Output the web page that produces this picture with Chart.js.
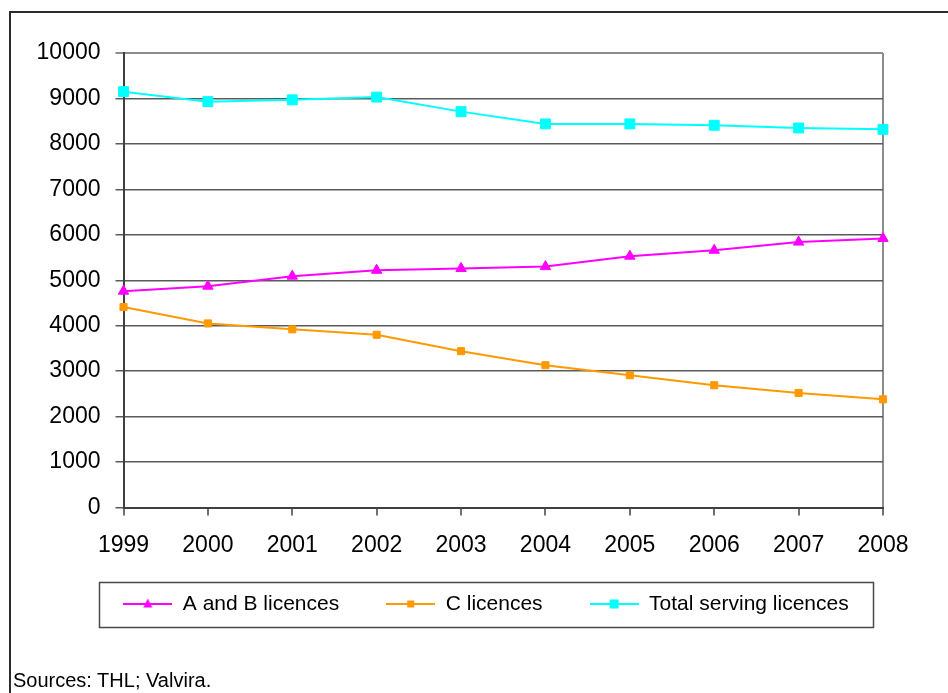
<!DOCTYPE html>
<html>
<head>
<meta charset="utf-8">
<title>Serving licences 1999-2008</title>
<script src="https://cdn.jsdelivr.net/npm/chart.js@4.4.1/dist/chart.umd.min.js"></script>
<style>
  html, body { margin: 0; padding: 0; background: #fff; overflow: hidden; }
  #frame { position: absolute; left: 9px; top: 11px; width: 1000px; height: 800px; border: 2px solid #2b2b2b; box-sizing: border-box; }
  #wrap { position: absolute; left: 0; top: 0; width: 948px; height: 693px; }
  #source { position: absolute; left: 13px; top: 669px; line-height: 20px; font: 20px "Liberation Sans", Arial, sans-serif; color: #000; }
</style>
</head>
<body>
<div id="frame"></div>
<div id="wrap"><canvas id="licenceChart"></canvas></div>
<div id="source">Sources: THL; Valvira.</div>
<script>
// Vuodet ja lupamäärät (luettu kuvasta)
const years = ['1999', '2000', '2001', '2002', '2003', '2004', '2005', '2006', '2007', '2008'];
const abLicences = [4760, 4870, 5090, 5220, 5260, 5300, 5530, 5660, 5840, 5920];
const cLicences = [4410, 4050, 3920, 3800, 3440, 3130, 2910, 2690, 2520, 2380];
const totalLicences = [9150, 8930, 8970, 9030, 8710, 8440, 8440, 8410, 8350, 8320];
const seriesNames = ['A and B licences', 'C licences', 'Total serving licences'];
const yMin = 0;
const yMax = 10000;
const yStep = 1000;

const FONT = '"Liberation Sans", Arial, sans-serif';

// legend icon: line with a marker in the middle (Excel style)
function legendIcon(color, shape, size) {
    const c = document.createElement('canvas');
    c.width = 49;
    c.height = 16;
    const g = c.getContext('2d');
    g.strokeStyle = color;
    g.lineWidth = 2;
    g.beginPath();
    g.moveTo(0, 8);
    g.lineTo(49, 8);
    g.stroke();
    g.fillStyle = color;
    g.beginPath();
    if (shape === 'triangle') {
        g.moveTo(24.5, 8 - size * 0.6);
        g.lineTo(24.5 + size / 2, 8 + size * 0.4);
        g.lineTo(24.5 - size / 2, 8 + size * 0.4);
        g.closePath();
    } else {
        g.rect(24.5 - size / 2, 8 - size / 2, size, size);
    }
    g.fill();
    return c;
}

const icons = [
    legendIcon('#FF00FF', 'triangle', 9),
    legendIcon('#FF9900', 'rect', 7),
    legendIcon('#00FFFF', 'rect', 9)
];

// frame round the legend
const legendFrame = {
    id: 'legendFrame',
    afterLayout(chart) {
        // let the year labels show below the (short) x axis box
        chart.scales.x.bottom = chart.scales.x.top + 60;
    },
    afterDraw(chart) {
        const boxes = chart.legend.legendHitBoxes;
        if (!boxes || !boxes.length) return;
        const first = boxes[0];
        const last = boxes[boxes.length - 1];
        const cx = (first.left + last.left + last.width) / 2;
        const cy = first.top + first.height / 2;
        const ctx = chart.ctx;
        ctx.save();
        ctx.strokeStyle = '#4a4a4a';
        ctx.lineWidth = 1.5;
        ctx.strokeRect(Math.round(cx - 387) + 0.5, Math.round(cy - 22) + 0.5, 774, 45);
        ctx.restore();
    }
};

const ctx = document.getElementById('licenceChart');
new Chart(ctx, {
    type: 'line',
    data: {
        labels: years,
        datasets: [{
            label: seriesNames[0],
            data: abLicences,
            borderColor: '#FF00FF',
            backgroundColor: '#FF00FF',
            borderWidth: 2,
            pointStyle: 'triangle',
            pointRadius: 6,
            pointBorderWidth: 1,
            tension: 0,
            clip: false
        }, {
            label: seriesNames[1],
            data: cLicences,
            borderColor: '#FF9900',
            backgroundColor: '#FF9900',
            borderWidth: 2,
            pointStyle: 'rect',
            pointRadius: 5,
            pointBorderWidth: 1,
            tension: 0,
            clip: false
        }, {
            label: seriesNames[2],
            data: totalLicences,
            borderColor: '#00FFFF',
            backgroundColor: '#00FFFF',
            borderWidth: 2,
            pointStyle: 'rect',
            pointRadius: 7,
            pointBorderWidth: 1,
            tension: 0,
            clip: false
        }]
    },
    options: {
        responsive: true,
        maintainAspectRatio: false,
        animation: false,
        layout: {
            padding: { top: 53, left: 24, right: 0, bottom: 68.5 }
        },
        plugins: {
            legend: {
                position: 'bottom',
                labels: {
                    usePointStyle: true,
                    pointStyleWidth: 49,
                    padding: 47,
                    color: '#000',
                    font: { family: FONT, size: 21 },
                    generateLabels: function(chart) {
                        const items = Chart.defaults.plugins.legend.labels.generateLabels(chart);
                        items.forEach(function(it, i) { it.pointStyle = icons[i]; });
                        return items;
                    }
                }
            },
            tooltip: { enabled: false }
        },
        scales: {
            x: {
                offset: false,
                grid: {
                    offset: false,
                    drawOnChartArea: true,
                    color: function(c) { return c.index === years.length - 1 ? '#8c8c8c' : 'rgba(0,0,0,0)'; },
                    lineWidth: 2,
                    tickColor: '#404040',
                    tickLength: 8,
                    tickWidth: 1.5
                },
                border: { color: '#404040', width: 2 },
                ticks: {
                    color: '#000',
                    padding: 16,
                    maxRotation: 0,
                    font: { family: FONT, size: 23 }
                },
                afterFit: function(s) { s.height = 39; }
            },
            y: {
                min: yMin,
                max: yMax,
                grid: {
                    color: function(c) { return c.tick && c.tick.value === yMax ? '#8c8c8c' : '#5a5a5a'; },
                    lineWidth: function(c) { return c.tick && c.tick.value === yMax ? 2 : 1.5; },
                    tickLength: 8
                },
                border: { color: '#404040', width: 2 },
                ticks: {
                    stepSize: yStep,
                    color: '#000',
                    padding: 15,
                    font: { family: FONT, size: 23 },
                    callback: function(v) { return String(v); }
                },
                afterFit: function(s) { s.width = 99.5; }
            },
            yRight: {
                position: 'right',
                display: true,
                grid: { display: false },
                border: { display: false },
                ticks: { display: false },
                afterFit: function(s) { s.width = 65; }
            }
        }
    },
    plugins: [legendFrame]
});
</script>
</body>
</html>
